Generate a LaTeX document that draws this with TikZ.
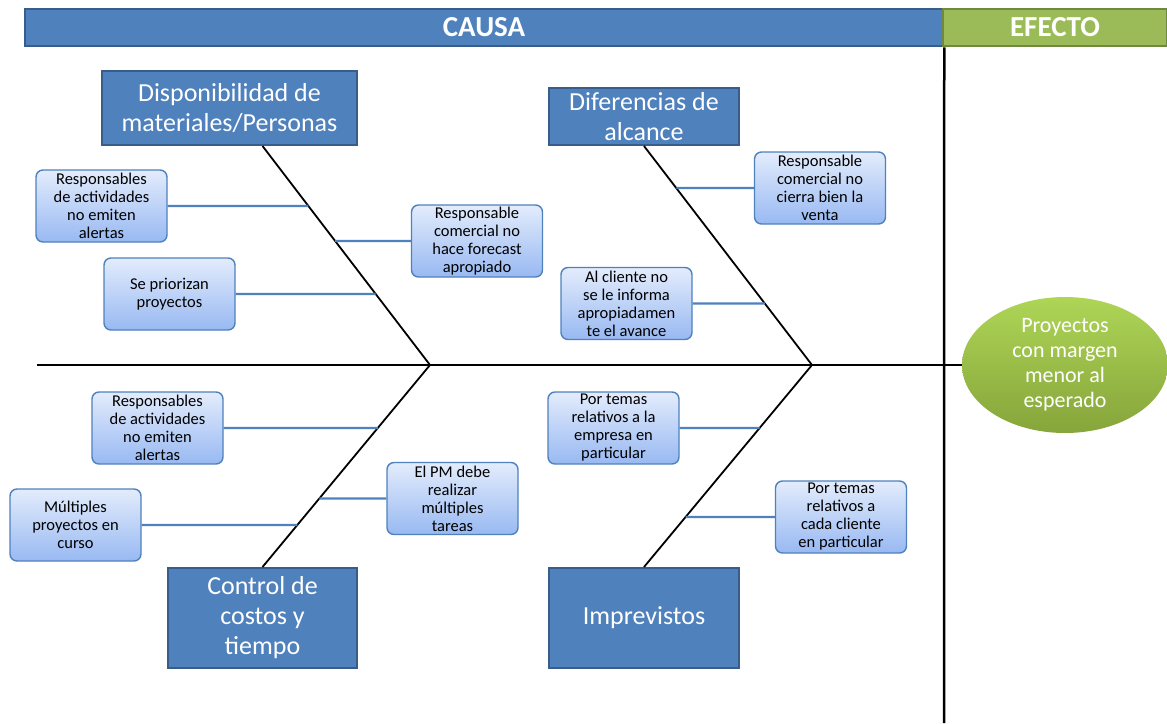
\documentclass[tikz,border=0pt]{standalone}
\usepackage{fontspec}
\setmainfont{Carlito}
\usepackage{tikz}
\usetikzlibrary{shapes, arrows.meta, positioning}

\definecolor{causeblue}{HTML}{4F81BD}
\definecolor{causeedge}{HTML}{385D8A}
\definecolor{effectgreen}{HTML}{9BBB59}
\definecolor{effectedge}{HTML}{71893F}
\definecolor{boxtop}{HTML}{E3ECFC}
\definecolor{boxbottom}{HTML}{98B9F2}
\definecolor{ovaltop}{HTML}{AED556}
\definecolor{ovalbottom}{HTML}{86A53B}

\begin{document}
\begin{tikzpicture}[
    x=1pt, y=-1pt,
    header/.style={rectangle, draw=causeedge, line width=2.5pt, fill=causeblue, text=white, font=\fontsize{29}{32}\selectfont\bfseries, inner sep=0pt, minimum height=37pt},
    block/.style={rectangle, draw=causeedge, line width=2pt, fill=causeblue, text=white, align=center, font=\fontsize{26}{30}\selectfont, inner sep=0pt},
    subblock/.style={rectangle, rounded corners=7pt, draw=causeblue, line width=1.4pt, top color=boxtop, bottom color=boxbottom, align=center, font=\fontsize{16.5}{18}\selectfont, minimum width=131pt, minimum height=72pt, inner sep=0pt},
    line/.style={draw, line width=1.8pt},
    branch/.style={draw=causeblue, line width=2.2pt}
]
\useasboundingbox (0,0) rectangle (1167,723);

% Headers
\node[header, minimum width=918pt] (causa) at (484,27.5) {CAUSA};
\node[header, draw=effectedge, fill=effectgreen, minimum width=224pt] (efecto) at (1055,27.5) {EFECTO};
\coordinate (vbottom) at (944,723);
\draw[line width=2.5pt] (causa.south east) -- (vbottom);

% Main causes
\node[block, minimum width=255pt, minimum height=74pt] (disp) at (229.5,108) {Disponibilidad de\\materiales/Personas};
\node[block, minimum width=190pt, minimum height=57pt] (dif) at (644,116.5) {Diferencias de\\alcance};
\node[block, minimum width=189pt, minimum height=100pt] (ctrl) at (262.5,618) {Control de\\costos y\\tiempo};
\node[block, minimum width=190pt, minimum height=100pt] (imp) at (644,618) {Imprevistos};

% Spine and effect
\coordinate (tail) at (37,365);
\coordinate (hA) at (430,365);
\coordinate (hB) at (812,365);
\node[ellipse, minimum width=206pt, minimum height=136pt, inner sep=0pt, top color=ovaltop, bottom color=ovalbottom, text=white, align=center, font=\fontsize{22}{25}\selectfont] (efect) at (1065,365) {Proyectos\\con margen\\menor al\\esperado};
\draw[line, line width=2.5pt] (tail) -- (efect.west);

% Bones
\coordinate (tA) at (ctrl.north |- disp.south);
\draw[line] (tA) -- (hA) -- (ctrl.north);
\draw[line] (dif.south) -- (hB) -- (imp.north);

% Sub causes
\node[subblock] (r1) at (101.5,206) {Responsables\\de actividades\\no emiten\\alertas};
\node[subblock] (r2) at (169.5,294) {Se priorizan\\proyectos};
\node[subblock] (r3) at (477,241) {Responsable\\comercial no\\hace forecast\\apropiado};
\node[subblock] (r4) at (820,188) {Responsable\\comercial no\\cierra bien la\\venta};
\node[subblock] (r5) at (626.5,303.5) {Al cliente no\\se le informa\\apropiadamen\\te el avance};
\node[subblock] (r6) at (157.5,428) {Responsables\\de actividades\\no emiten\\alertas};
\node[subblock] (r7) at (75.5,525) {Múltiples\\proyectos en\\curso};
\node[subblock] (r8) at (452.5,498.5) {El PM debe\\realizar\\múltiples\\tareas};
\node[subblock] (r9) at (613.5,428) {Por temas\\relativos a la\\empresa en\\particular};
\node[subblock] (r10) at (841,517) {Por temas\\relativos a\\cada cliente\\en particular};

% Branches
\draw[branch] (r1.east) -- (intersection of r1.east--r1.west and tA--hA);
\draw[branch] (r2.east) -- (intersection of r2.east--r2.west and tA--hA);
\draw[branch] (r3.west) -- (intersection of r3.east--r3.west and tA--hA);
\draw[branch] (r4.west) -- (intersection of r4.east--r4.west and dif.south--hB);
\draw[branch] (r5.east) -- (intersection of r5.east--r5.west and dif.south--hB);
\draw[branch] (r6.east) -- (intersection of r6.east--r6.west and ctrl.north--hA);
\draw[branch] (r7.east) -- (intersection of r7.east--r7.west and ctrl.north--hA);
\draw[branch] (r8.west) -- (intersection of r8.east--r8.west and ctrl.north--hA);
\draw[branch] (r9.east) -- (intersection of r9.east--r9.west and imp.north--hB);
\draw[branch] (r10.west) -- (intersection of r10.east--r10.west and imp.north--hB);

\end{tikzpicture}
\end{document}
